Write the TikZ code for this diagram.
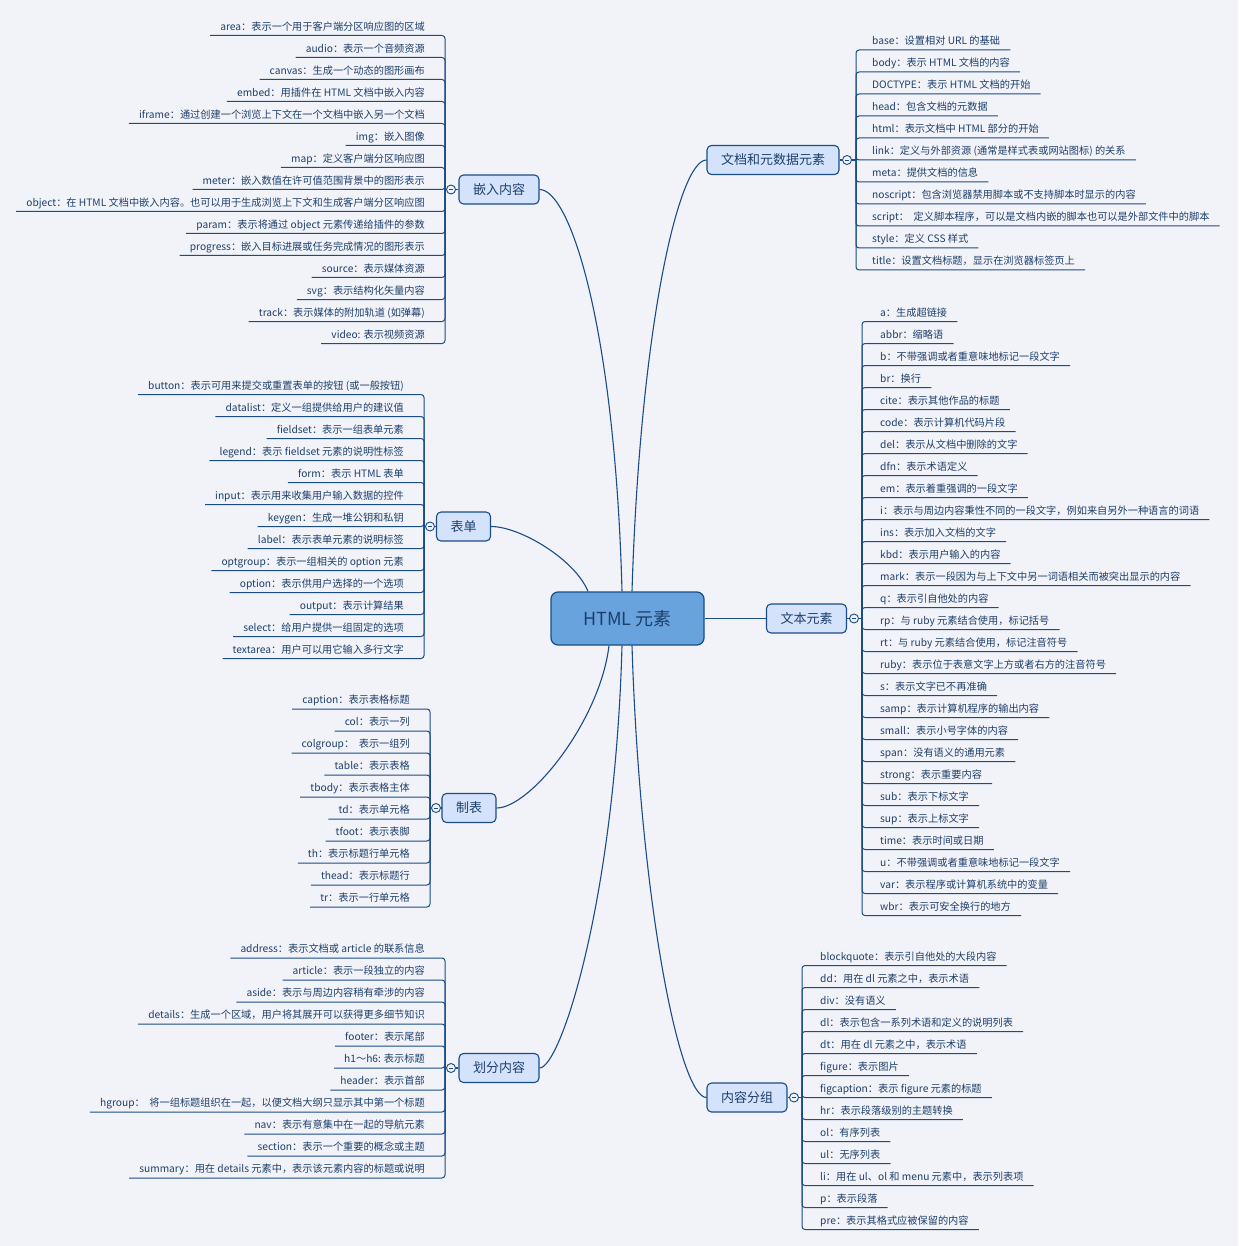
\documentclass[tikz,border=0pt]{standalone}
\usepackage{fontspec}
\setmainfont{Noto Sans CJK SC}

\begin{document}
\begin{tikzpicture}[
    x=1pt, y=1pt,
    rootbox/.style={draw=linenavy, line width=1.2pt, fill=rootblue, rounded corners=7pt, minimum width=153pt, minimum height=53pt, text=rootink, font=\fontsize{18}{20}\selectfont},
    topicbox/.style={draw=linenavy, line width=1.1pt, fill=topicblue, rounded corners=4.5pt, minimum height=29pt, inner xsep=14pt, text=inknavy, font=\fontsize{13}{15}\selectfont},
    toggle/.style={circle, draw=linenavy, line width=0.9pt, fill=paper, minimum size=9pt, inner sep=0pt,
        path picture={\draw[linenavy, line width=0.8pt] ([xshift=-2.2pt]path picture bounding box.center) -- ([xshift=2.2pt]path picture bounding box.center);}},
    leafl/.style={anchor=south east, inner xsep=10pt, inner ysep=2.8pt, text height=8.5pt, text depth=2.2pt, text=inknavy, font=\fontsize{10.2}{12}\selectfont},
    leafr/.style={leafl, anchor=south west},
    branchline/.style={draw=linenavy, line width=1.1pt},
    stemline/.style={draw=linenavy, line width=1pt, rounded corners=3pt}
]

% colours
\definecolor{paper}{HTML}{F2F3F8}
\definecolor{linenavy}{HTML}{1A4C87}
\definecolor{inknavy}{HTML}{1D3F6B}
\definecolor{rootblue}{HTML}{69A3DE}
\definecolor{topicblue}{HTML}{D4E3FB}
\definecolor{rootink}{HTML}{1B3E6B}

\path[use as bounding box, fill=paper] (0,0) rectangle (1238,-1246);

% ==================== ROOT AND TOPICS ====================
\node[rootbox] (root) at (627.5,-618.5) {HTML 元素};

\node[topicbox, minimum width=130pt] (docs) at (773,-160) {文档和元数据元素};
\node[topicbox] (texts) at (806.5,-618.5) {文本元素};
\node[topicbox] (groups) at (747,-1097.5) {内容分组};
\node[topicbox] (embed) at (499,-189.5) {嵌入内容};
\node[topicbox] (forms) at (463.5,-526.5) {表单};
\node[topicbox] (tables) at (469,-808) {制表};
\node[topicbox] (sections) at (499,-1068) {划分内容};

% collapse rings and the points where the stems meet
\node[toggle] (docsring) at (847,-160) {};
\node[toggle] (textsring) at (854,-618.5) {};
\node[toggle] (groupsring) at (794,-1097.5) {};
\node[toggle] (embedring) at (451,-189.5) {};
\node[toggle] (formsring) at (430,-526.5) {};
\node[toggle] (tablesring) at (436,-808) {};
\node[toggle] (sectionsring) at (451,-1068) {};
\coordinate (docshub) at (856,-160);
\coordinate (textshub) at (862,-618.5);
\coordinate (groupshub) at (802,-1097.5);
\coordinate (embedhub) at (445,-189.5);
\coordinate (formshub) at (424,-526.5);
\coordinate (tableshub) at (430,-808);
\coordinate (sectionshub) at (445,-1068);

% branches out of the root
\draw[branchline] ([xshift=4.5pt]root.north) .. controls +(8,262) and +(-28,0) .. (docs.west);
\draw[branchline] (root.east) -- (texts.west);
\draw[branchline] ([xshift=4.5pt]root.south) .. controls +(8,-255) and +(-27,0) .. (groups.west);
\draw[branchline] ([xshift=-5.5pt]root.north) .. controls +(-7,262) and +(31,0) .. (embed.east);
\draw[branchline] ([xshift=-39.5pt]root.north) .. controls +(-13,32) and +(29,0) .. (forms.east);
\draw[branchline] ([xshift=-18.5pt]root.south) .. controls +(-9,-75) and +(34,0) .. (tables.east);
\draw[branchline] ([xshift=-5.5pt]root.south) .. controls +(-7,-255) and +(21,0) .. (sections.east);

% topic -> ring -> hub
\draw[branchline] (docs) -- (docsring) -- (docshub);
\draw[branchline] (texts) -- (textsring) -- (textshub);
\draw[branchline] (groups) -- (groupsring) -- (groupshub);
\draw[branchline] (embed) -- (embedring) -- (embedhub);
\draw[branchline] (forms) -- (formsring) -- (formshub);
\draw[branchline] (tables) -- (tablesring) -- (tableshub);
\draw[branchline] (sections) -- (sectionsring) -- (sectionshub);

% ==================== 文档和元数据元素 ====================
\node[leafr] (docs1) at (862,-50) {base：设置相对 URL 的基础};
\node[leafr] (docs2) at (862,-72) {body：表示 HTML 文档的内容};
\node[leafr] (docs3) at (862,-94) {DOCTYPE：表示 HTML 文档的开始};
\node[leafr] (docs4) at (862,-116) {head：包含文档的元数据};
\node[leafr] (docs5) at (862,-138) {html：表示文档中 HTML 部分的开始};
\node[leafr] (docs6) at (862,-160) {link：定义与外部资源 (通常是样式表或网站图标) 的关系};
\node[leafr] (docs7) at (862,-182) {meta：提供文档的信息};
\node[leafr] (docs8) at (862,-204) {noscript：包含浏览器禁用脚本或不支持脚本时显示的内容};
\node[leafr] (docs9) at (862,-226) {script：\ \ 定义脚本程序，可以是文档内嵌的脚本也可以是外部文件中的脚本};
\node[leafr] (docs10) at (862,-248) {style：定义 CSS 样式};
\node[leafr] (docs11) at (862,-270) {title：设置文档标题，显示在浏览器标签页上};
\foreach \n in {1,...,11} \draw[stemline] (docshub) |- (docs\n.south east);

% ==================== 文本元素 ====================
\node[leafr] (text1) at (870,-321.5) {a：生成超链接};
\node[leafr] (text2) at (870,-343.5) {abbr：缩略语};
\node[leafr] (text3) at (870,-365.5) {b：不带强调或者重意味地标记一段文字};
\node[leafr] (text4) at (870,-387.5) {br：换行};
\node[leafr] (text5) at (870,-409.5) {cite：表示其他作品的标题};
\node[leafr] (text6) at (870,-431.5) {code：表示计算机代码片段};
\node[leafr] (text7) at (870,-453.5) {del：表示从文档中删除的文字};
\node[leafr] (text8) at (870,-475.5) {dfn：表示术语定义};
\node[leafr] (text9) at (870,-497.5) {em：表示着重强调的一段文字};
\node[leafr] (text10) at (870,-519.5) {i：表示与周边内容秉性不同的一段文字，例如来自另外一种语言的词语};
\node[leafr] (text11) at (870,-541.5) {ins：表示加入文档的文字};
\node[leafr] (text12) at (870,-563.5) {kbd：表示用户输入的内容};
\node[leafr] (text13) at (870,-585.5) {mark：表示一段因为与上下文中另一词语相关而被突出显示的内容};
\node[leafr] (text14) at (870,-607.5) {q：表示引自他处的内容};
\node[leafr] (text15) at (870,-629.5) {rp：与 ruby 元素结合使用，标记括号};
\node[leafr] (text16) at (870,-651.5) {rt：与 ruby 元素结合使用，标记注音符号};
\node[leafr] (text17) at (870,-673.5) {ruby：表示位于表意文字上方或者右方的注音符号};
\node[leafr] (text18) at (870,-695.5) {s：表示文字已不再准确};
\node[leafr] (text19) at (870,-717.5) {samp：表示计算机程序的输出内容};
\node[leafr] (text20) at (870,-739.5) {small：表示小号字体的内容};
\node[leafr] (text21) at (870,-761.5) {span：没有语义的通用元素};
\node[leafr] (text22) at (870,-783.5) {strong：表示重要内容};
\node[leafr] (text23) at (870,-805.5) {sub：表示下标文字};
\node[leafr] (text24) at (870,-827.5) {sup：表示上标文字};
\node[leafr] (text25) at (870,-849.5) {time：表示时间或日期};
\node[leafr] (text26) at (870,-871.5) {u：不带强调或者重意味地标记一段文字};
\node[leafr] (text27) at (870,-893.5) {var：表示程序或计算机系统中的变量};
\node[leafr] (text28) at (870,-915.5) {wbr：表示可安全换行的地方};
\foreach \n in {1,...,28} \draw[stemline] (textshub) |- (text\n.south east);

% ==================== 内容分组 ====================
\node[leafr] (grp1) at (810,-965.5) {blockquote：表示引自他处的大段内容};
\node[leafr] (grp2) at (810,-987.5) {dd：用在 dl 元素之中，表示术语};
\node[leafr] (grp3) at (810,-1009.5) {div：没有语义};
\node[leafr] (grp4) at (810,-1031.5) {dl：表示包含一系列术语和定义的说明列表};
\node[leafr] (grp5) at (810,-1053.5) {dt：用在 dl 元素之中，表示术语};
\node[leafr] (grp6) at (810,-1075.5) {figure：表示图片};
\node[leafr] (grp7) at (810,-1097.5) {figcaption：表示 figure 元素的标题};
\node[leafr] (grp8) at (810,-1119.5) {hr：表示段落级别的主题转换};
\node[leafr] (grp9) at (810,-1141.5) {ol：有序列表};
\node[leafr] (grp10) at (810,-1163.5) {ul：无序列表};
\node[leafr] (grp11) at (810,-1185.5) {li：用在 ul、ol 和 menu 元素中，表示列表项};
\node[leafr] (grp12) at (810,-1207.5) {p：表示段落};
\node[leafr] (grp13) at (810,-1229.5) {pre：表示其格式应被保留的内容};
\foreach \n in {1,...,13} \draw[stemline] (groupshub) |- (grp\n.south east);

% ==================== 嵌入内容 ====================
\node[leafl] (emb1) at (435,-35.5) {area：表示一个用于客户端分区响应图的区域};
\node[leafl] (emb2) at (435,-57.5) {audio：表示一个音频资源};
\node[leafl] (emb3) at (435,-79.5) {canvas：生成一个动态的图形画布};
\node[leafl] (emb4) at (435,-101.5) {embed：用插件在 HTML 文档中嵌入内容};
\node[leafl] (emb5) at (435,-123.5) {iframe：通过创建一个浏览上下文在一个文档中嵌入另一个文档};
\node[leafl] (emb6) at (435,-145.5) {img：嵌入图像};
\node[leafl] (emb7) at (435,-167.5) {map：定义客户端分区响应图};
\node[leafl] (emb8) at (435,-189.5) {meter：嵌入数值在许可值范围背景中的图形表示};
\node[leafl] (emb9) at (435,-211.5) {object：在 HTML 文档中嵌入内容。也可以用于生成浏览上下文和生成客户端分区响应图};
\node[leafl] (emb10) at (435,-233.5) {param：表示将通过 object 元素传递给插件的参数};
\node[leafl] (emb11) at (435,-255.5) {progress：嵌入目标进展或任务完成情况的图形表示};
\node[leafl] (emb12) at (435,-277.5) {source：表示媒体资源};
\node[leafl] (emb13) at (435,-299.5) {svg：表示结构化矢量内容};
\node[leafl] (emb14) at (435,-321.5) {track：表示媒体的附加轨道 (如弹幕)};
\node[leafl] (emb15) at (435,-343.5) {video: 表示视频资源};
\foreach \n in {1,...,15} \draw[stemline] (embedhub) |- (emb\n.south west);

% ==================== 表单 ====================
\node[leafl] (form1) at (414,-394.5) {button：表示可用来提交或重置表单的按钮 (或一般按钮)};
\node[leafl] (form2) at (414,-416.5) {datalist：定义一组提供给用户的建议值};
\node[leafl] (form3) at (414,-438.5) {fieldset：表示一组表单元素};
\node[leafl] (form4) at (414,-460.5) {legend：表示 fieldset 元素的说明性标签};
\node[leafl] (form5) at (414,-482.5) {form：表示 HTML 表单};
\node[leafl] (form6) at (414,-504.5) {input：表示用来收集用户输入数据的控件};
\node[leafl] (form7) at (414,-526.5) {keygen：生成一堆公钥和私钥};
\node[leafl] (form8) at (414,-548.5) {label：表示表单元素的说明标签};
\node[leafl] (form9) at (414,-570.5) {optgroup：表示一组相关的 option 元素};
\node[leafl] (form10) at (414,-592.5) {option：表示供用户选择的一个选项};
\node[leafl] (form11) at (414,-614.5) {output：表示计算结果};
\node[leafl] (form12) at (414,-636.5) {select：给用户提供一组固定的选项};
\node[leafl] (form13) at (414,-658.5) {textarea：用户可以用它输入多行文字};
\foreach \n in {1,...,13} \draw[stemline] (formshub) |- (form\n.south west);

% ==================== 制表 ====================
\node[leafl] (tab1) at (420,-709) {caption：表示表格标题};
\node[leafl] (tab2) at (420,-731) {col：表示一列};
\node[leafl] (tab3) at (420,-753) {colgroup：\ \ 表示一组列};
\node[leafl] (tab4) at (420,-775) {table：表示表格};
\node[leafl] (tab5) at (420,-797) {tbody：表示表格主体};
\node[leafl] (tab6) at (420,-819) {td：表示单元格};
\node[leafl] (tab7) at (420,-841) {tfoot：表示表脚};
\node[leafl] (tab8) at (420,-863) {th：表示标题行单元格};
\node[leafl] (tab9) at (420,-885) {thead：表示标题行};
\node[leafl] (tab10) at (420,-907) {tr：表示一行单元格};
\foreach \n in {1,...,10} \draw[stemline] (tableshub) |- (tab\n.south west);

% ==================== 划分内容 ====================
\node[leafl] (sec1) at (435,-958) {address：表示文档或 article 的联系信息};
\node[leafl] (sec2) at (435,-980) {article：表示一段独立的内容};
\node[leafl] (sec3) at (435,-1002) {aside：表示与周边内容稍有牵涉的内容};
\node[leafl] (sec4) at (435,-1024) {details：生成一个区域，用户将其展开可以获得更多细节知识};
\node[leafl] (sec5) at (435,-1046) {footer：表示尾部};
\node[leafl] (sec6) at (435,-1068) {h1～h6: 表示标题};
\node[leafl] (sec7) at (435,-1090) {header：表示首部};
\node[leafl] (sec8) at (435,-1112) {hgroup：\ \ 将一组标题组织在一起，以便文档大纲只显示其中第一个标题};
\node[leafl] (sec9) at (435,-1134) {nav：表示有意集中在一起的导航元素};
\node[leafl] (sec10) at (435,-1156) {section：表示一个重要的概念或主题};
\node[leafl] (sec11) at (435,-1178) {summary：用在 details 元素中，表示该元素内容的标题或说明};
\foreach \n in {1,...,11} \draw[stemline] (sectionshub) |- (sec\n.south west);

\end{tikzpicture}
\end{document}
